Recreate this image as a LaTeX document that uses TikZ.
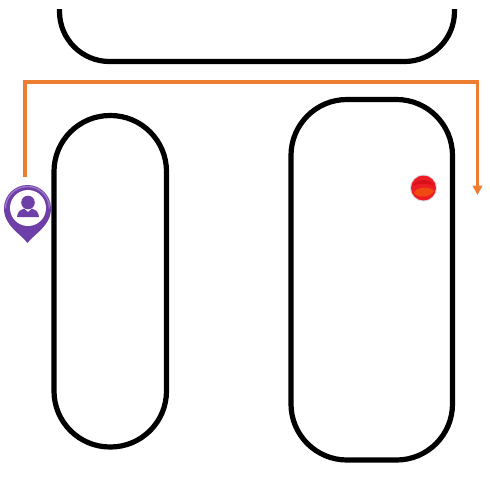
\documentclass[tikz,border=0pt]{standalone}
\usetikzlibrary{arrows.meta,shadings}
\definecolor{orangeline}{HTML}{ED7D31}
\definecolor{pinpurple}{HTML}{6F3FA8}
\definecolor{pinlight}{HTML}{9A78C8}
\definecolor{ballred}{HTML}{EE1C25}
\definecolor{balldeep}{HTML}{D81018}
\definecolor{ballglow}{HTML}{F04A10}
\tikzset{
  boxline/.style={line width=3.9pt,black},
  flow/.style={line width=2.4pt,orangeline,line join=miter,-{Triangle[length=7pt,width=7pt]}},
}
\begin{document}
\begin{tikzpicture}[x=0.75pt,y=-0.75pt]
\useasboundingbox (0,0) rectangle (490,476);
% top shape, open at its top edge
\draw[boxline,rounded corners=37.5pt] (59.5,9) -- (59.5,61.5) -- (454.5,61.5) -- (454.5,9);
% pill boxes
\draw[boxline,rounded corners=42pt] (54,115.5) rectangle (166.5,447);
\draw[boxline,rounded corners=42pt] (291,99.5) rectangle (452.5,460);
% connector
\coordinate (start) at (25,177);
\coordinate (end) at (477.5,195);
\draw[flow] (start) -- (25,82) -- (477.5,82) -- (end);
% pin
\fill[pinpurple] (27.5,243) .. controls (21,234) and (4,226) .. (4,208.5)
  arc[start angle=180,end angle=360,radius=23.5] .. controls (51,226) and (34,234) .. (27.5,243) -- cycle;
\draw[pinlight,line width=1pt] (5.5,208.5) arc[start angle=180,end angle=360,radius=22];
\fill[white] (28,208) circle[radius=18];
\fill[pinpurple] (28,202.5) circle[radius=6.8];
\fill[pinpurple] (17,217) .. controls (17.5,211) and (21,209.5) .. (24,208.5)
  -- (28,212) -- (32,208.5) .. controls (35,209.5) and (38.5,211) .. (39,217) -- cycle;
% red ball
\fill[cyan!15!gray!30] (423.5,188) circle[radius=13.5];
\fill[ballred] (423.5,188) circle[radius=12.5];
\fill[balldeep] (412,186) .. controls (416,178) and (431,178) .. (435,186)
  .. controls (430,183) and (417,183) .. (412,186) -- cycle;
\fill[ballglow] (414,193) .. controls (417,186) and (430,186) .. (434,191)
  .. controls (430,198) and (417,198) .. (414,193) -- cycle;
\end{tikzpicture}
\end{document}
